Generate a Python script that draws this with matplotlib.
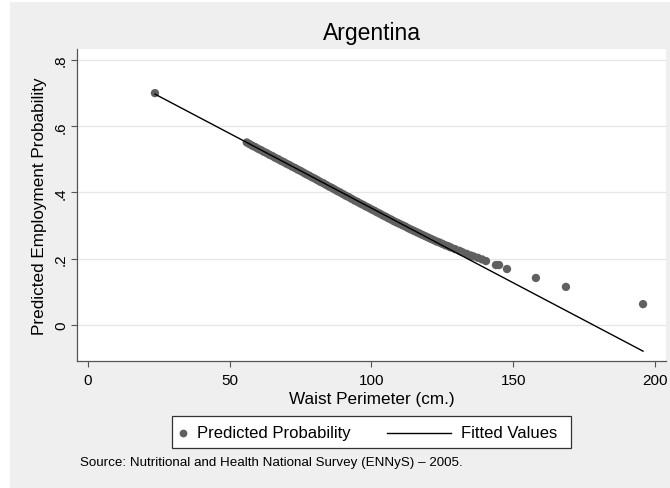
import matplotlib
matplotlib.use('Agg')
import matplotlib.pyplot as plt
from matplotlib.patches import Rectangle
from matplotlib.lines import Line2D

plt.rcParams['font.family'] = ['Liberation Sans', 'DejaVu Sans']

# Predicted employment probability by waist perimeter (cm.)
waist = [23.6,
         56, 57, 58, 59, 60, 61, 62, 63, 64, 65, 66, 67, 68, 69, 70,
         71, 72, 73, 74, 75, 76, 77, 78, 79, 80, 81, 82, 83, 84, 85,
         86, 87, 88, 89, 90, 91, 92, 93, 94, 95, 96, 97, 98, 99, 100,
         101, 102, 103, 104, 105, 106, 107, 108, 109, 110, 111, 112, 113, 114, 115,
         116, 117, 118, 119, 120, 121, 122, 123, 124, 125, 126, 127, 128,
         129.5, 131, 132, 133.5, 135, 136, 137.5, 139, 140.4,
         143.9, 145, 147.8, 158, 168.6, 195.8]
prob = [0.700,
        0.551, 0.546, 0.541, 0.537, 0.532, 0.528, 0.523, 0.519, 0.514, 0.510, 0.505, 0.501, 0.496, 0.492, 0.487,
        0.483, 0.478, 0.474, 0.469, 0.465, 0.460, 0.455, 0.451, 0.446, 0.442, 0.437, 0.432, 0.428, 0.423, 0.418,
        0.414, 0.409, 0.404, 0.400, 0.395, 0.390, 0.386, 0.381, 0.376, 0.372, 0.367, 0.363, 0.358, 0.354, 0.349,
        0.345, 0.340, 0.336, 0.331, 0.327, 0.322, 0.318, 0.313, 0.309, 0.305, 0.301, 0.297, 0.292, 0.288, 0.284,
        0.280, 0.276, 0.272, 0.268, 0.264, 0.260, 0.256, 0.252, 0.249, 0.245, 0.241, 0.238, 0.234,
        0.229, 0.224, 0.220, 0.215, 0.210, 0.207, 0.203, 0.198, 0.193,
        0.181, 0.181, 0.169, 0.142, 0.115, 0.063]

# Linear fit endpoints
fit_x = [23.6, 195.8]
fit_y = [0.697, -0.079]

yticks = [0, 0.2, 0.4, 0.6, 0.8]
ytick_labels = ['0', '.2', '.4', '.6', '.8']
xticks = [0, 50, 100, 150, 200]

W, H = 670, 489
fig = plt.figure(figsize=(6.7, 4.89), dpi=100)
fig.patch.set_facecolor('white')
# gray graph region
fig.add_artist(Rectangle((10 / W, 0), 1 - 10 / W, 1 - 3 / H, transform=fig.transFigure,
                         facecolor='#efefef', edgecolor='none', zorder=-10))

ax = fig.add_axes([77 / W, 1 - 362 / H, (666 - 77) / W, (362 - 50) / H])
ax.set_facecolor('white')

marker_col = '#606060'
ax.scatter(waist, prob, s=36, color=marker_col, edgecolors='none', zorder=3)
ax.plot(fit_x, fit_y, color='black', lw=1.0, zorder=4)

ax.set_xlim(-3.9, 203.9)
ax.set_ylim(-0.1087, 0.8332)

ax.set_yticks(yticks)
ax.set_yticklabels(ytick_labels, rotation=90, va='center')
ax.set_xticks(xticks)
ax.yaxis.grid(True, color='#e6e6e6', lw=0.9)
ax.set_axisbelow(True)

for s in ['top', 'right']:
    ax.spines[s].set_visible(False)
for s in ['left', 'bottom']:
    ax.spines[s].set_color('#555555')
    ax.spines[s].set_linewidth(0.9)
ax.tick_params(axis='both', colors='#555555', length=4.5, width=0.8, labelsize=11,
               labelcolor='black')
ax.tick_params(axis='x', pad=4)
ax.tick_params(axis='y', pad=2)

ax.set_xlabel('Waist Perimeter (cm.)', fontsize=12.3, labelpad=3)
ax.set_ylabel('Predicted Employment Probability', fontsize=12.3, labelpad=5)
ax.set_title('Argentina', fontsize=16.5, pad=7)

# legend box
lx0, lx1, ly0, ly1 = 172, 571, 417, 449
fig.add_artist(Rectangle((lx0 / W, 1 - ly1 / H), (lx1 - lx0) / W, (ly1 - ly0) / H,
                         transform=fig.transFigure, facecolor='white',
                         edgecolor='#333333', lw=0.9))
ly = 1 - 433.5 / H
fig.add_artist(Line2D([183 / W], [ly], marker='o', markersize=5.6, color=marker_col,
                      markeredgewidth=0, transform=fig.transFigure))
fig.text(197 / W, ly, 'Predicted Probability', fontsize=12, va='center', ha='left')
fig.add_artist(Line2D([387 / W, 451 / W], [ly, ly], color='black', lw=1.0,
                      transform=fig.transFigure))
fig.text(461 / W, ly, 'Fitted Values', fontsize=12, va='center', ha='left')

fig.text(80 / W, 1 - 463 / H, 'Source: Nutritional and Health National Survey (ENNyS) \u2013 2005.',
         fontsize=9.6, va='center', ha='left')

plt.savefig('out.png', dpi=100)
